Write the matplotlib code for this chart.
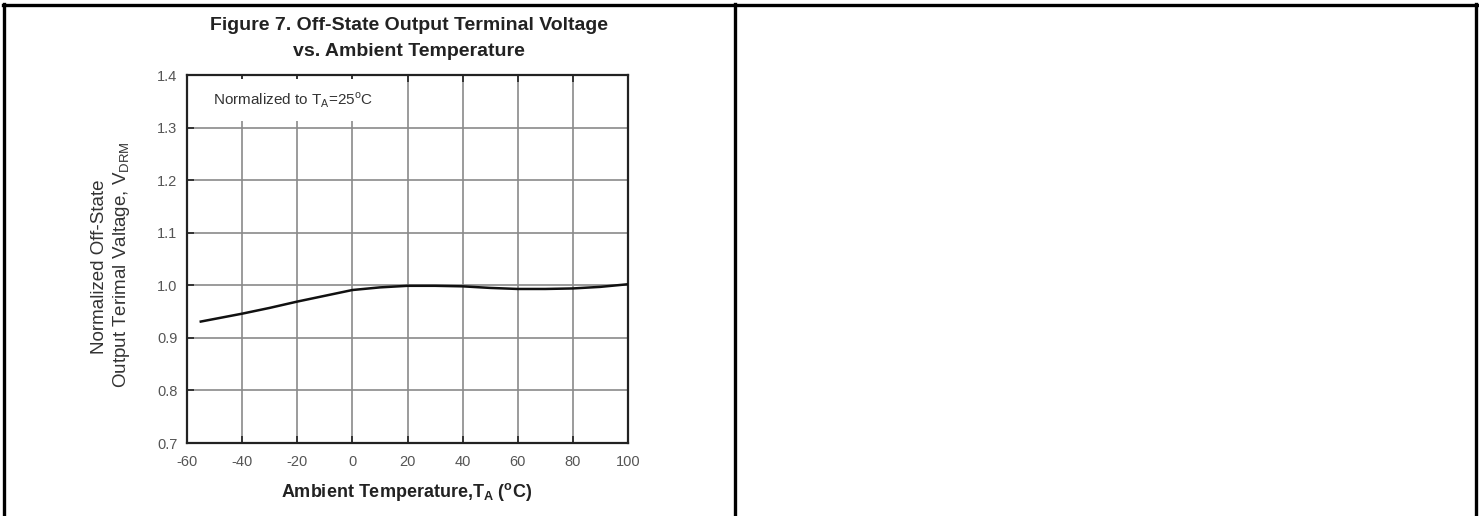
import matplotlib
matplotlib.use("Agg")
import matplotlib.pyplot as plt
from matplotlib.lines import Line2D

# Curve
temp_c = [-55, -40, -30, -20, -10, 0, 10, 20, 30, 40, 50, 60, 70, 80, 90, 100]
v_norm = [0.931, 0.946, 0.957, 0.969, 0.980, 0.991, 0.996, 0.999, 0.999, 0.998,
          0.995, 0.993, 0.993, 0.994, 0.997, 1.002]

x_ticks = [-60, -40, -20, 0, 20, 40, 60, 80, 100]
y_ticks = [0.7, 0.8, 0.9, 1.0, 1.1, 1.2, 1.3, 1.4]

plt.rcParams['font.family'] = ['Liberation Sans', 'DejaVu Sans']
plt.rcParams['mathtext.fontset'] = 'custom'
plt.rcParams['mathtext.rm'] = 'Liberation Sans'
plt.rcParams['mathtext.bf'] = 'Liberation Sans:bold'
plt.rcParams['axes.unicode_minus'] = False

W, H = 1479, 516
fig = plt.figure(figsize=(W / 100, H / 100), dpi=100)

# table-like frame around the figure cell
def hline(y, x0, x1):
    fig.add_artist(Line2D([x0 / W, x1 / W], [1 - y / H, 1 - y / H], color='black', lw=2.4))

def vline(x, y0, y1):
    fig.add_artist(Line2D([x / W, x / W], [1 - y0 / H, 1 - y1 / H], color='black', lw=2.4))

hline(5, 3, 1477)
vline(4, 4, 516)
vline(735, 4, 516)
vline(1476, 4, 516)

ax = fig.add_axes([187 / W, 1 - 443 / H, 441 / W, 368 / H])
ax.plot(temp_c, v_norm, color='#111111', lw=1.8, zorder=3)

ax.set_xlim(-60, 100)
ax.set_ylim(0.7, 1.4)
ax.set_xticks(x_ticks)
ax.set_yticks(y_ticks)
ax.set_yticklabels(['%.1f' % v for v in y_ticks])
ax.grid(True, color='#8a8a8a', lw=1.2)
ax.tick_params(direction='in', length=5, width=1.2, color='#222222',
               labelsize=10.5, labelcolor='#555555', top=True)
ax.tick_params(axis='x', pad=9)
ax.tick_params(axis='y', pad=7)
for s in ax.spines.values():
    s.set_linewidth(1.6)
    s.set_color('#222222')

ax.text(-50.5, 1.352, r'Normalized to T$_\mathregular{A}$=25$^\mathregular{o}$C',
        fontsize=11, color='#333333', va='center', ha='left', zorder=4,
        bbox=dict(boxstyle='square,pad=0.75', fc='white', ec='none'))

fig.text(409 / W, 1 - 25 / H, 'Figure 7. Off-State Output Terminal Voltage',
         ha='center', va='center', fontsize=14, fontweight='bold', color='#222222')
fig.text(409 / W, 1 - 52 / H, 'vs. Ambient Temperature',
         ha='center', va='center', fontsize=14, fontweight='bold', color='#222222')

fig.text(99 / W, 1 - 267 / H, 'Normalized Off-State',
         rotation=90, ha='center', va='center', fontsize=13.5, color='#333333')
fig.text(121 / W, 1 - 265 / H, r'Output Terimal Valtage, V$_\mathregular{DRM}$',
         rotation=90, ha='center', va='center', fontsize=13.5, color='#333333')

fig.text(407 / W, 1 - 492 / H, r'Ambient Temperature,T$_\mathbf{A}$ ($^\mathbf{o}$C)',
         ha='center', va='center', fontsize=13, fontweight='bold', color='#222222')

plt.savefig('out.png', dpi=100)
